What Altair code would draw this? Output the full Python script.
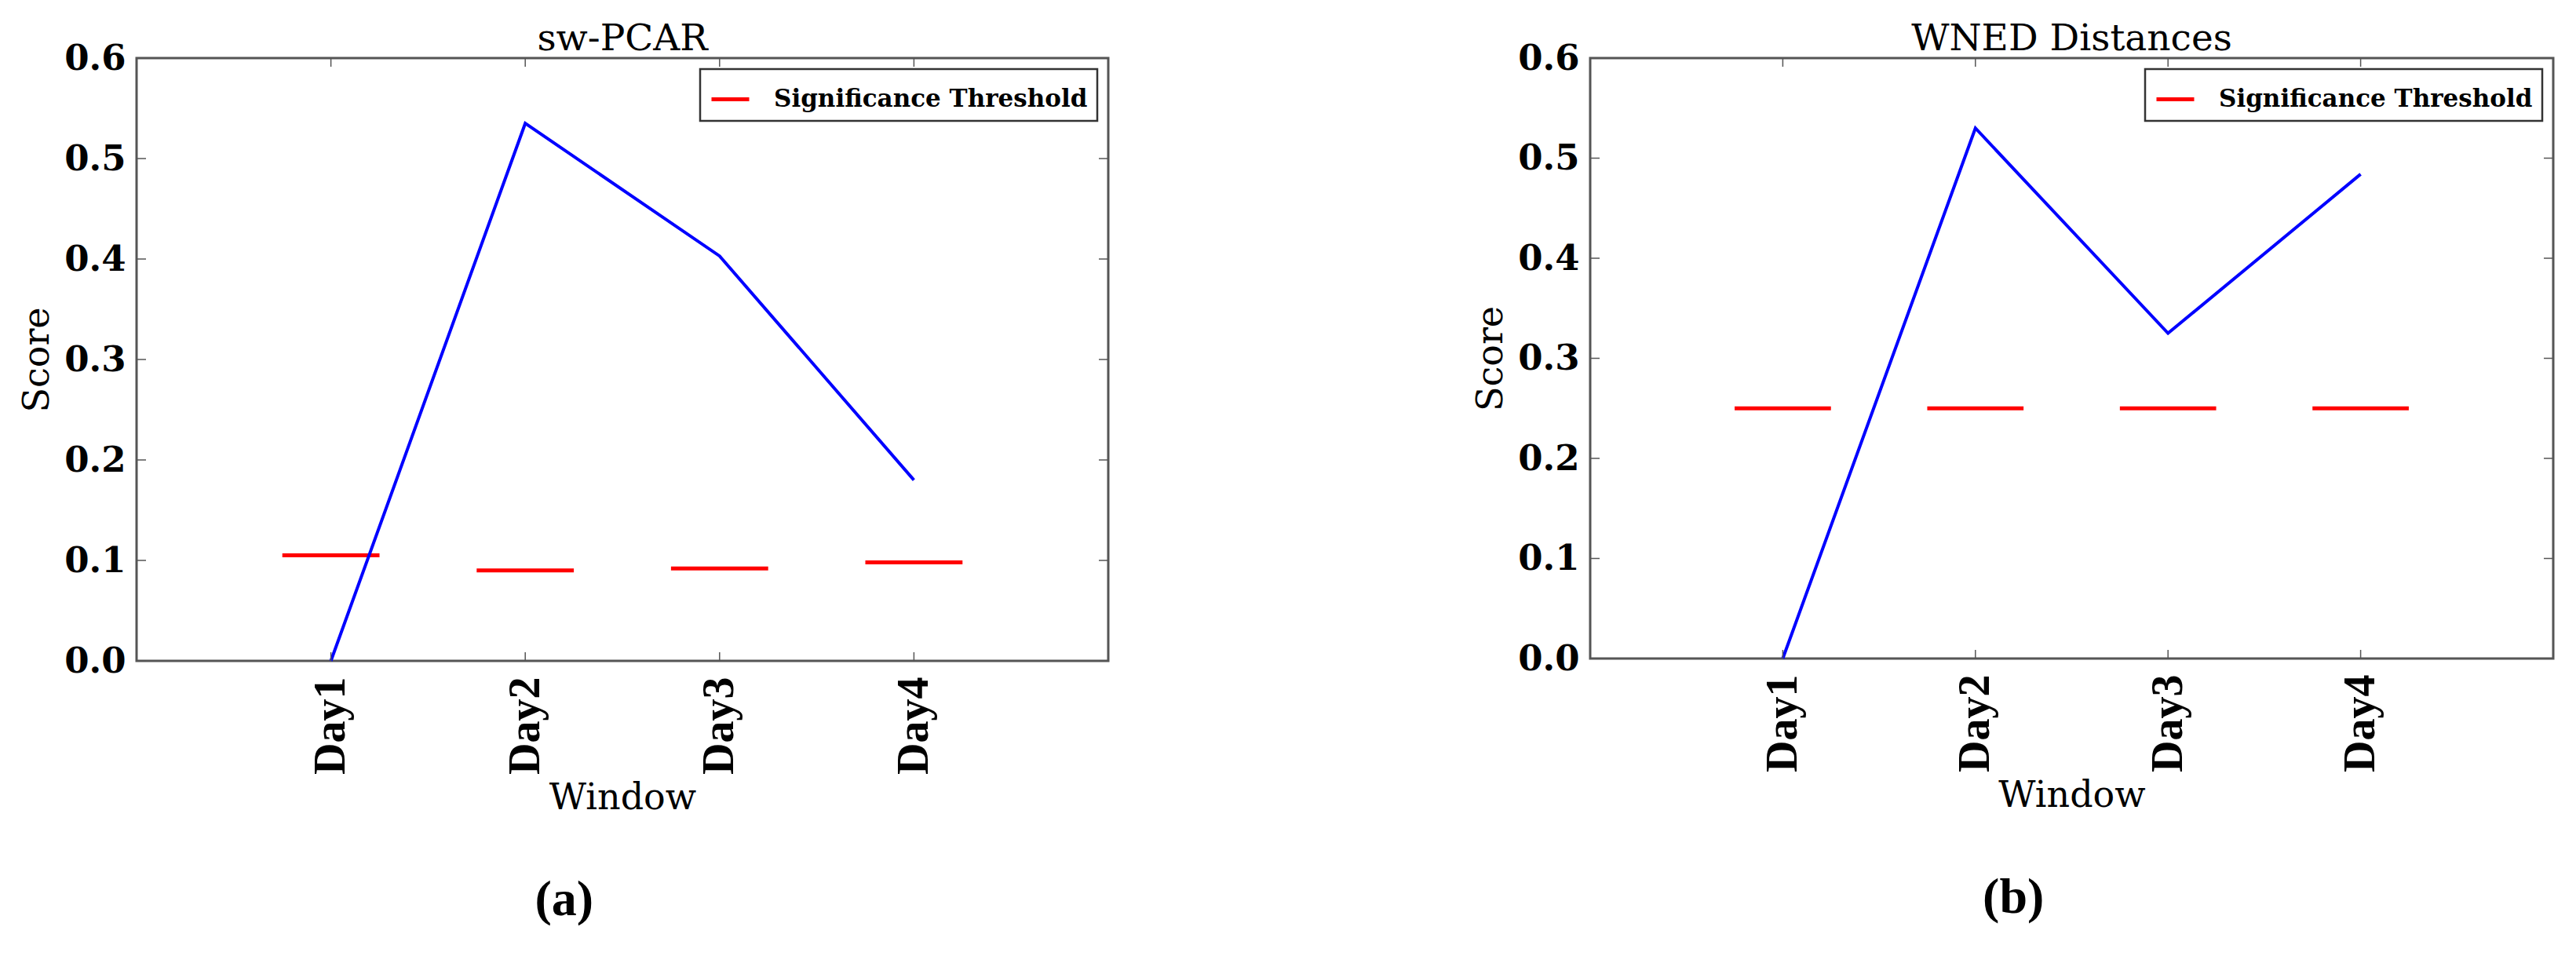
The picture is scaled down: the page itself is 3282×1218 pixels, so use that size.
import json
import altair as alt
import pandas as pd

# ---- data ----
days = ["Day1", "Day2", "Day3", "Day4"]
day_pos = [1, 2, 3, 4]
pcar_score = [0.0, 0.535, 0.403, 0.180]
pcar_threshold = [0.105, 0.090, 0.092, 0.098]
wned_score = [0.0, 0.530, 0.325, 0.484]
wned_threshold = [0.25, 0.25, 0.25, 0.25]
y_ticks = [0.0, 0.1, 0.2, 0.3, 0.4, 0.5, 0.6]
legend_label = "Significance Threshold"
panel_titles = ["sw-PCAR", "WNED Distances"]
captions = ["(a)", "(b)"]
half_width = 0.25  # half width of threshold segment in x units

label_expr = json.dumps(days) + "[datum.value - 1]"
TICK_COLOR = "#555555"


def panel(scores, thresholds, title, caption, w, h):
    df = pd.DataFrame({
        "day": days, "pos": day_pos, "score": scores,
        "thr": thresholds, "series": legend_label,
    })
    ydf = pd.DataFrame({"v": y_ticks})
    xsc = alt.Scale(domain=[0, 5], nice=False, zero=False)
    ysc = alt.Scale(domain=[0, 0.6], nice=False, zero=False)
    xax = alt.Axis(values=day_pos, labelExpr=label_expr, labelAngle=270,
                   labelAlign="right", labelBaseline="middle",
                   labelFont="Liberation Serif", labelFontWeight="bold",
                   labelFontSize=56, labelPadding=20, labelFlush=False,
                   labelOverlap=False, labelColor="black", grid=False,
                   domain=False, ticks=False,
                   title="Window", titleFont="DejaVu Serif", titleColor="black",
                   titleFontSize=46, titleFontWeight="normal", titlePadding=8)
    yax = alt.Axis(values=y_ticks, format=".1f", labelFont="DejaVu Serif",
                   labelFontWeight="bold", labelFontSize=45, labelPadding=14,
                   labelFlush=False, labelOverlap=False, labelColor="black",
                   grid=False, domain=False, ticks=False,
                   title="Score", titleColor="black",
                   titleFont="DejaVu Serif", titleFontSize=46,
                   titleFontWeight="normal", titlePadding=10)

    base = alt.Chart(df)
    thr = base.transform_calculate(
        x0=f"datum.pos - {half_width}", x1=f"datum.pos + {half_width}"
    ).mark_rule(strokeWidth=5).encode(
        x=alt.X("x0:Q", scale=xsc, axis=xax),
        x2="x1:Q",
        y=alt.Y("thr:Q", scale=ysc, axis=yax),
        color=alt.Color(
            "series:N",
            scale=alt.Scale(domain=[legend_label], range=["#ff0000"]),
            legend=alt.Legend(
                title=None, orient="top-right", offset=14,
                symbolType="stroke", symbolStrokeWidth=5, symbolSize=2304,
                labelFont="DejaVu Serif", labelFontWeight="bold",
                labelFontSize=31, labelColor="black", labelOffset=29,
                labelLimit=0, padding=12, strokeColor="#333333",
                fillColor="white",
            ),
        ),
    )
    line = base.mark_line(color="#0000ff", strokeWidth=4).encode(
        x=alt.X("pos:Q", scale=xsc, axis=xax),
        y=alt.Y("score:Q", scale=ysc, axis=yax),
    )
    bot = base.mark_rule(color=TICK_COLOR, strokeWidth=1.5).encode(
        x=alt.X("pos:Q", scale=xsc, axis=xax), y=alt.value(h), y2=alt.value(h - 11)
    )
    top = base.mark_rule(color=TICK_COLOR, strokeWidth=1.5).encode(
        x=alt.X("pos:Q", scale=xsc, axis=xax), y=alt.value(0), y2=alt.value(11)
    )
    left = alt.Chart(ydf).mark_rule(color=TICK_COLOR, strokeWidth=1.5).encode(
        y=alt.Y("v:Q", scale=ysc, axis=yax), x=alt.value(0), x2=alt.value(12)
    )
    right = alt.Chart(ydf).mark_rule(color=TICK_COLOR, strokeWidth=1.5).encode(
        y=alt.Y("v:Q", scale=ysc, axis=yax), x=alt.value(w), x2=alt.value(w - 12)
    )
    layered = alt.layer(thr, line, bot, top, left, right).properties(
        width=w, height=h,
        title=alt.TitleParams(title, font="DejaVu Serif", fontSize=47,
                              fontWeight="normal", color="black", offset=-22,
                              anchor="middle"),
    )
    return alt.vconcat(layered, title=alt.TitleParams(
        caption, orient="bottom", anchor="middle", font="Liberation Serif",
        fontSize=64, fontWeight="bold", color="black", offset=74)
    ).resolve_scale(color="independent").resolve_legend(color="independent")


pa = panel(pcar_score, pcar_threshold, panel_titles[0], captions[0], 1238, 768)
pb = panel(wned_score, wned_threshold, panel_titles[1], captions[1], 1227, 765)

chart = alt.hconcat(pa, pb, spacing=460).resolve_scale(
    color="independent"
).resolve_legend(color="independent").properties(
    padding={"left": 15, "top": 16, "right": 0, "bottom": 0},
    background="white",
).configure_view(
    stroke="#555555", strokeWidth=3
).configure_axis(
    domain=False, ticks=False, grid=False, labelColor="black", titleColor="black"
).configure_legend(
    strokeWidth=2.5
)

chart.save("out.html", embed_options={"renderer": "svg", "actions": False})
